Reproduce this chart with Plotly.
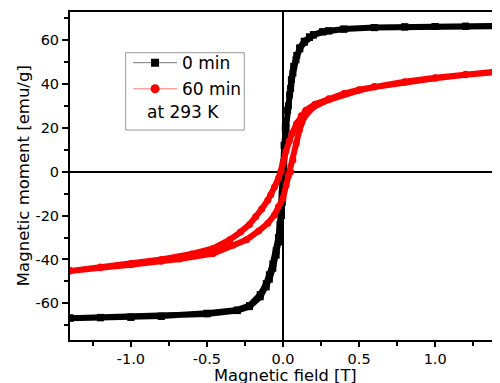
import plotly.graph_objects as go

# 0 min sample: descending branch (+1.4 -> -1.4) then ascending branch
h_0min_desc = [1.40, 1.20, 1.00, 0.80, 0.60, 0.40, 0.30, 0.26, 0.20, 0.174, 0.14, 0.11, 0.09, 0.07,
               0.055, 0.043, 0.03, 0.015, 0.007, 0.003, 0.0, -0.005, -0.01, -0.02, -0.03, -0.045,
               -0.067, -0.09, -0.11, -0.15, -0.22, -0.30, -0.50, -0.80, -1.00, -1.20, -1.40]
m_0min_desc = [66.3, 66.3, 66.2, 66.0, 65.7, 65.0, 64.2, 63.8, 62.5, 61.5, 59.5, 56.5, 53.0, 48.0,
               42.0, 35.0, 28.0, 20.0, 12.0, 4.0, -2.0, -10.0, -18.0, -24.0, -30.0, -36.0,
               -42.0, -47.0, -51.0, -56.0, -61.0, -63.0, -64.5, -65.8, -66.2, -66.4, -66.6]
h_0min_asc = [-1.40, -1.20, -1.00, -0.80, -0.50, -0.30, -0.22, -0.15, -0.11, -0.09, -0.067, -0.045,
              -0.03, -0.02, -0.01, -0.005, 0.0, 0.005, 0.01, 0.02, 0.035, 0.05, 0.065, 0.085,
              0.11, 0.14, 0.174, 0.20, 0.26, 0.30, 0.40, 0.60, 0.80, 1.00, 1.20, 1.40]
m_0min_asc = [-66.8, -66.6, -66.4, -66.0, -64.8, -63.3, -61.5, -57.0, -52.5, -49.0, -44.0, -38.0,
              -32.0, -27.0, -20.0, -14.0, -6.0, 2.0, 10.0, 20.0, 30.0, 38.0, 45.0, 51.0,
              56.0, 59.0, 61.2, 62.3, 63.7, 64.2, 65.0, 65.7, 66.0, 66.2, 66.3, 66.4]

# 60 min sample
h_60min_desc = [1.40, 1.20, 1.00, 0.80, 0.60, 0.50, 0.40, 0.30, 0.21, 0.15, 0.12, 0.09, 0.06, 0.04,
                0.02, 0.0, -0.012, -0.03, -0.056, -0.08, -0.10, -0.14, -0.18, -0.22, -0.28, -0.35,
                -0.46, -0.60, -0.80, -1.00, -1.20, -1.40]
m_60min_desc = [45.6, 44.4, 42.8, 41.0, 38.8, 37.4, 35.6, 33.3, 30.8, 28.0, 25.5, 22.0, 17.5, 14.0,
                9.5, 4.0, 0.0, -3.0, -7.0, -10.5, -13.0, -17.0, -20.5, -24.0, -27.5, -31.0,
                -35.0, -37.5, -40.0, -41.8, -43.4, -45.0]
h_60min_asc = [-1.40, -1.20, -1.00, -0.80, -0.68, -0.46, -0.33, -0.24, -0.16, -0.10, -0.056, -0.03,
               0.0, 0.021, 0.035, 0.05, 0.065, 0.087, 0.108, 0.14, 0.20, 0.30, 0.40, 0.50, 0.60,
               0.80, 1.00, 1.20, 1.40]
m_60min_asc = [-45.3, -43.8, -42.4, -40.8, -39.8, -37.3, -33.5, -31.0, -27.0, -23.5, -19.7, -16.0,
               -12.0, -6.0, -2.0, 0.0, 5.3, 12.9, 19.0, 25.0, 29.5, 32.8, 35.3, 37.1, 38.6,
               40.8, 42.6, 44.2, 45.4]

x_ticks = [-1.0, -0.5, 0.0, 0.5, 1.0]
x_ticklabels = ["-1.0", "-0.5", "0.0", "0.5", "1.0"]
y_ticks = [-60, -40, -20, 0, 20, 40, 60]
y_ticklabels = ["-60", "-40", "-20", "0", "20", "40", "60"]

FONT = "DejaVu Sans, Arial, sans-serif"

fig = go.Figure()

# data bands (dense markers in the original -> thick line + markers)
fig.add_trace(go.Scatter(x=h_0min_desc + h_0min_asc, y=m_0min_desc + m_0min_asc,
                         mode="lines+markers", showlegend=False,
                         line=dict(color="black", width=6),
                         marker=dict(symbol="square", size=7, color="black")))
fig.add_trace(go.Scatter(x=h_60min_desc + h_60min_asc, y=m_60min_desc + m_60min_asc,
                         mode="lines+markers", showlegend=False,
                         line=dict(color="#ff0000", width=6),
                         marker=dict(symbol="circle", size=7, color="#ff0000")))

# legend entries
fig.add_trace(go.Scatter(x=[None], y=[None], mode="lines+markers", name="0 min",
                         legendgroup="a",
                         line=dict(color="#777777", width=1),
                         marker=dict(symbol="square", size=8, color="black")))
fig.add_trace(go.Scatter(x=[None], y=[None], mode="lines+markers", name="60 min",
                         legendgroup="b",
                         line=dict(color="#ff8080", width=1),
                         marker=dict(symbol="circle", size=9, color="#ff0000")))

# The page body has an 8px margin: the figure is shrunk by 8px so the plot area
# lands where the reference has it in the 500x383 window.
fig.update_layout(
    width=492, height=375,
    margin=dict(l=62, r=0, t=4, b=43),
    paper_bgcolor="white", plot_bgcolor="white",
    font=dict(family=FONT, size=14.5, color="black"),
    showlegend=True,
    legend=dict(x=0.135, y=0.899, xanchor="left", yanchor="top",
                bgcolor="rgba(0,0,0,0)", borderwidth=0,
                font=dict(family=FONT, size=17, color="black"),
                itemwidth=44, tracegroupgap=1, traceorder="grouped"),
    xaxis=dict(range=[-1.4, 1.426], showgrid=False, zeroline=True,
               zerolinecolor="black", zerolinewidth=1.5,
               showline=True, linecolor="black", linewidth=2, mirror=True,
               ticks="outside", ticklen=5, tickwidth=1.5, tickcolor="black",
               tickvals=x_ticks, ticktext=x_ticklabels,
               minor=dict(dtick=0.25, tick0=0, ticks="outside", ticklen=4, tickcolor="black", tickwidth=1.5),
               tickfont=dict(size=14.5)),
    yaxis=dict(range=[-76.7, 72.8], showgrid=False, zeroline=True,
               zerolinecolor="black", zerolinewidth=1.5,
               showline=True, linecolor="black", linewidth=2, mirror=False,
               ticks="outside", ticklen=6, tickwidth=1.5, tickcolor="black",
               tickvals=y_ticks, ticktext=y_ticklabels,
               minor=dict(dtick=10, tick0=0, ticks="outside", ticklen=4, tickcolor="black", tickwidth=1.5),
               tickfont=dict(size=14.5)),
    shapes=[dict(type="rect", xref="paper", yref="paper",
                 x0=0.1295, x1=0.4053, y0=0.640, y1=0.876,
                 line=dict(color="#999999", width=1), fillcolor="rgba(0,0,0,0)")],
    annotations=[
        dict(text="at 293 K", xref="paper", yref="paper", x=0.175, y=0.696,
             xanchor="left", yanchor="middle", showarrow=False,
             font=dict(family=FONT, size=17, color="black")),
        dict(text="Magnetic moment [emu/g]", xref="paper", yref="paper",
             x=-0.109, y=0.5, xanchor="center", yanchor="middle", textangle=-90,
             showarrow=False, font=dict(family=FONT, size=16.5, color="black")),
        dict(text="Magnetic field [T]", xref="paper", yref="paper",
             x=0.5, y=-0.073, xanchor="center", yanchor="top",
             showarrow=False, font=dict(family=FONT, size=16.3, color="black")),
    ],
)

fig.write_html("out.html")
